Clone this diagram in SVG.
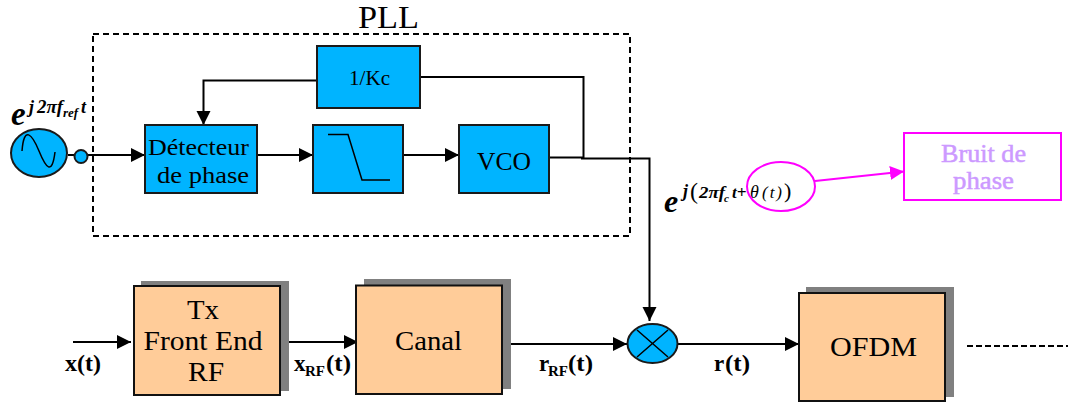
<svg xmlns="http://www.w3.org/2000/svg" width="1068" height="403" viewBox="0 0 1068 403">
<style>
text{font-family:"Liberation Serif","Times New Roman",serif;fill:#000}
.blue{fill:#00b4ff;stroke:#1a1a1a;stroke-width:2}
.tan{fill:#ffcc99;stroke:#111;stroke-width:2}
.shadow{fill:#808080}
.line{fill:none;stroke:#000;stroke-width:2}
.lbl{font-size:27px;text-anchor:middle}
.b{font-size:23px;font-weight:bold}
.sub{font-size:15px;font-weight:bold}
.eq{font-weight:bold;font-style:italic}
.mag{fill:none;stroke:#ff00ff;stroke-width:2}
.note{font-size:25px;text-anchor:middle;fill:#cc99ff}
</style>
<defs>
<marker id="arr" markerUnits="userSpaceOnUse" markerWidth="15" markerHeight="15" refX="14" refY="7" orient="auto"><path d="M0 0L14 7L0 14Z" fill="#000"/></marker>
<marker id="arrm" markerUnits="userSpaceOnUse" markerWidth="15" markerHeight="15" refX="14" refY="7" orient="auto"><path d="M0 0L14 7L0 14Z" fill="#ff00ff"/></marker>
</defs>
<g id="pll"><rect x="93" y="34" width="537" height="202" fill="none" stroke="#000" stroke-width="2" stroke-dasharray="6 4"/><text x="358" y="28" font-size="31" textLength="61" lengthAdjust="spacingAndGlyphs">PLL</text></g>
<g id="connectors">
<path class="line" d="M68 155H145" marker-end="url(#arr)"/>
<path class="line" d="M317 80.500H203.500V125" marker-end="url(#arr)"/>
<path class="line" d="M257 155H313" marker-end="url(#arr)"/>
<path class="line" d="M403 155H459" marker-end="url(#arr)"/>
<path class="line" d="M420 77H583.500V158"/>
<path class="line" d="M549 157.500H582V158.500H649.500V321" marker-end="url(#arr)"/>
<path class="line" d="M73 342H131" marker-end="url(#arr)"/>
<path class="line" d="M280 342H358" marker-end="url(#arr)"/>
<path class="line" d="M502 344H627" marker-end="url(#arr)"/>
<path class="line" d="M677 344H799" marker-end="url(#arr)"/>
<path d="M967 346H1068" fill="none" stroke="#000" stroke-width="2" stroke-dasharray="6 3"/>
<path d="M815 181L904 171.500" fill="none" stroke="#ff00ff" stroke-width="2" marker-end="url(#arrm)"/>
</g>
<g id="source"><ellipse class="blue" cx="39" cy="153" rx="28" ry="24"/><path d="M22 151C24 125 32 134 39 151S52 176 55 152" fill="none" stroke="#000" stroke-width="1.500"/><circle class="blue" cx="81" cy="156.500" r="6.500"/></g>
<g id="eq-ref"><text class="eq" x="11" y="125" font-size="33">e</text><text class="eq" x="29" y="113" font-size="18">j</text><text class="eq" x="37" y="113" font-size="18" textLength="26" lengthAdjust="spacingAndGlyphs">2πf</text><text class="eq" x="63" y="117" font-size="13">ref</text><text class="eq" x="81" y="113" font-size="18">t</text></g>
<g id="kc"><rect class="blue" x="317" y="46" width="103" height="62"/><text x="369.500" y="85" font-size="20" text-anchor="middle" textLength="41" lengthAdjust="spacingAndGlyphs">1/Kc</text></g>
<g id="detecteur"><rect class="blue" x="145" y="125" width="112" height="68"/><text x="148" y="155" font-size="23.500" textLength="101" lengthAdjust="spacingAndGlyphs">Détecteur</text><text x="157" y="182.500" font-size="23.500" textLength="92" lengthAdjust="spacingAndGlyphs">de phase</text></g>
<g id="filtre"><rect class="blue" x="313" y="125" width="90" height="68"/><path d="M328 134.500H348L362 180H390" fill="none" stroke="#000" stroke-width="1.500"/></g>
<g id="vco"><rect class="blue" x="459" y="125" width="90" height="68"/><text x="477" y="170" font-size="26" textLength="54" lengthAdjust="spacingAndGlyphs">VCO</text></g>
<g id="eq-c"><text class="eq" x="664" y="212" font-size="32">e</text><text class="eq" x="683" y="197" font-size="18">j</text><text x="690" y="199" font-size="24">(</text><text class="eq" x="699" y="198" font-size="17" textLength="26" lengthAdjust="spacingAndGlyphs">2πf</text><text class="eq" x="724" y="202" font-size="11">c</text><text class="eq" x="732" y="198" font-size="17">t+</text><text x="750" y="198" font-size="18" font-style="italic">θ</text><text x="762" y="198" font-size="17" font-style="italic" textLength="20" lengthAdjust="spacing">(t)</text><text x="784" y="198" font-size="22">)</text></g>
<g id="noise-mark"><ellipse class="mag" cx="781" cy="186.500" rx="34" ry="24.500"/></g>
<g id="bruit"><rect class="mag" x="904" y="133" width="157" height="67"/><text class="note" x="983.500" y="162" textLength="85" lengthAdjust="spacingAndGlyphs" stroke="#cc99ff" stroke-width="0.500">Bruit de</text><text class="note" x="983.500" y="189" textLength="61" lengthAdjust="spacingAndGlyphs" stroke="#cc99ff" stroke-width="0.500">phase</text></g>
<g id="tx"><rect class="shadow" x="141" y="281" width="148" height="110"/><rect class="tan" x="134" y="286" width="146" height="109"/><text class="lbl" x="203" y="319" textLength="32" lengthAdjust="spacingAndGlyphs">Tx</text><text class="lbl" x="203" y="350" textLength="119" lengthAdjust="spacingAndGlyphs">Front End</text><text class="lbl" x="206" y="381" textLength="36" lengthAdjust="spacingAndGlyphs">RF</text></g>
<g id="canal"><rect class="shadow" x="364" y="279" width="147" height="110"/><rect class="tan" x="356" y="285.500" width="146" height="108.500"/><text class="lbl" x="428.500" y="350" textLength="67" lengthAdjust="spacingAndGlyphs">Canal</text></g>
<g id="mixer"><ellipse class="blue" cx="652.500" cy="343.500" rx="25" ry="19.500"/><path d="M637 330L668 357M668 330L637 357" fill="none" stroke="#000" stroke-width="1.500"/></g>
<g id="ofdm"><rect class="shadow" x="806" y="287" width="148" height="110"/><rect class="tan" x="799" y="293" width="146" height="108"/><text class="lbl" x="873.500" y="356" textLength="87" lengthAdjust="spacingAndGlyphs">OFDM</text></g>
<g id="labels"><text class="b" x="65" y="371" textLength="36" lengthAdjust="spacingAndGlyphs">x(t)</text><text class="b" x="294" y="371">x</text><text class="sub" x="305" y="376" textLength="20" lengthAdjust="spacingAndGlyphs">RF</text><text class="b" x="326" y="371" textLength="25" lengthAdjust="spacingAndGlyphs">(t)</text><text class="b" x="539" y="371">r</text><text class="sub" x="548" y="376" textLength="20" lengthAdjust="spacingAndGlyphs">RF</text><text class="b" x="568" y="371" textLength="25" lengthAdjust="spacingAndGlyphs">(t)</text><text class="b" x="714" y="371">r</text><text class="b" x="725" y="371" textLength="25" lengthAdjust="spacingAndGlyphs">(t)</text></g>
</svg>
